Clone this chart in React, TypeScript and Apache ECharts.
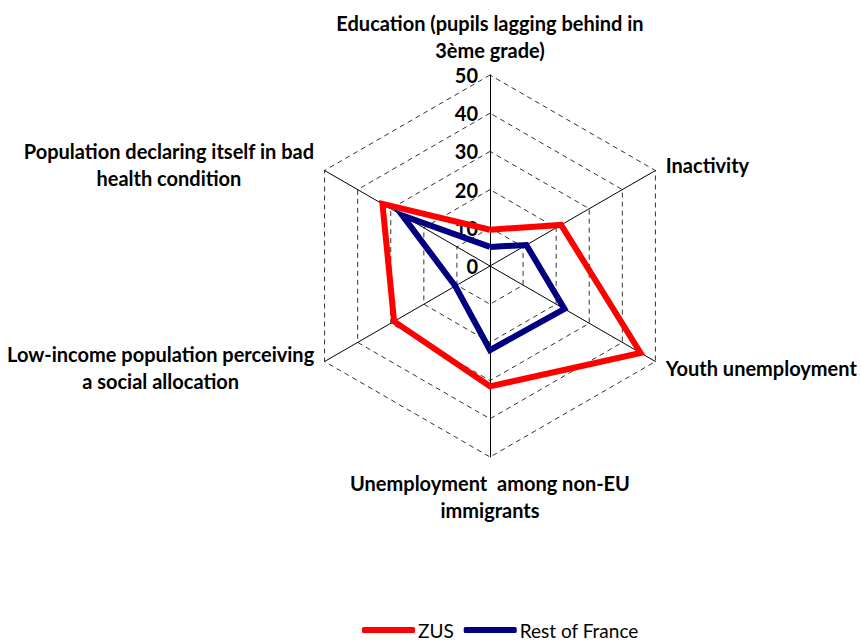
import React, { useEffect, useRef } from "react";
import * as echarts from "echarts";

// Indicators in ECharts order (counter-clockwise from the top)
const indicatorNames = [
  "Education (pupils lagging behind in\n3ème grade)",
  "Population declaring itself in bad\nhealth condition",
  "Low-income population perceiving\na social allocation",
  "Unemployment  among non-EU\nimmigrants",
  "Youth unemployment",
  "Inactivity",
];
const axisMin = 0;
const axisMax = 50;
const seriesNames = ["ZUS", "Rest of France"];
const zusValues = [9.5, 32.5, 29, 31.5, 45.5, 21.5];
const restOfFranceValues = [5, 26.5, 10.5, 22, 22.5, 11];
const seriesColors = ["#FF0000", "#000080"];

const FONT = "Lato";

export default function App() {
  const ref = useRef<HTMLDivElement>(null);
  useEffect(() => {
    if (!ref.current) return;
    const chart = echarts.init(ref.current, undefined, { renderer: "svg" });
    const labelStyle = {
      fontFamily: FONT,
      fontSize: 20,
      fontWeight: "bold" as const,
      color: "#000",
      lineHeight: 27,
    };
    chart.setOption({
      animation: false,
      backgroundColor: "#fff",
      color: seriesColors,
      legend: {
        left: 362,
        top: 619,
        padding: 0,
        icon: "roundRect",
        itemWidth: 53,
        itemHeight: 6,
        itemGap: 10,
        data: seriesNames,
        textStyle: {
          fontFamily: FONT,
          fontSize: 19,
          lineHeight: 22,
          color: "#000",
          padding: [0, 0, 0, -2],
        },
      },
      radar: {
        center: [490, 266],
        radius: 191,
        startAngle: 90,
        splitNumber: 5,
        shape: "polygon",
        nameGap: 12,
        axisName: {
          ...labelStyle,
          formatter: (name: string) =>
            name
              .split("\n")
              .map((l) => `{c|${l}}`)
              .join("\n"),
          rich: { c: { ...labelStyle, align: "center" } },
        },
        axisLine: { show: true, lineStyle: { color: "#000", width: 1 } },
        splitLine: { show: true, lineStyle: { color: "#333", width: 1, type: [5, 4] } },
        splitArea: { show: false },
        axisTick: { show: false },
        axisLabel: { show: false },
        indicator: indicatorNames.map((name, i) =>
          i === 0
            ? {
                name,
                min: axisMin,
                max: axisMax,
                axisLabel: {
                  show: true,
                  margin: 12,
                  fontFamily: FONT,
                  fontSize: 20,
                  fontWeight: "bold",
                  color: "#000",
                },
              }
            : { name, min: axisMin, max: axisMax }
        ),
      },
      series: [
        {
          type: "radar",
          name: seriesNames[0],
          symbol: "none",
          lineStyle: { width: 6, color: seriesColors[0], join: "miter" },
          itemStyle: { color: seriesColors[0] },
          data: [{ name: seriesNames[0], value: zusValues }],
        },
        {
          type: "radar",
          name: seriesNames[1],
          symbol: "none",
          lineStyle: { width: 6, color: seriesColors[1], join: "miter" },
          itemStyle: { color: seriesColors[1] },
          data: [{ name: seriesNames[1], value: restOfFranceValues }],
        },
      ],
    });
    return () => chart.dispose();
  }, []);
  return (
    <div
      ref={ref}
      style={{ position: "fixed", left: 0, top: 0, width: 861, height: 644 }}
    />
  );
}
